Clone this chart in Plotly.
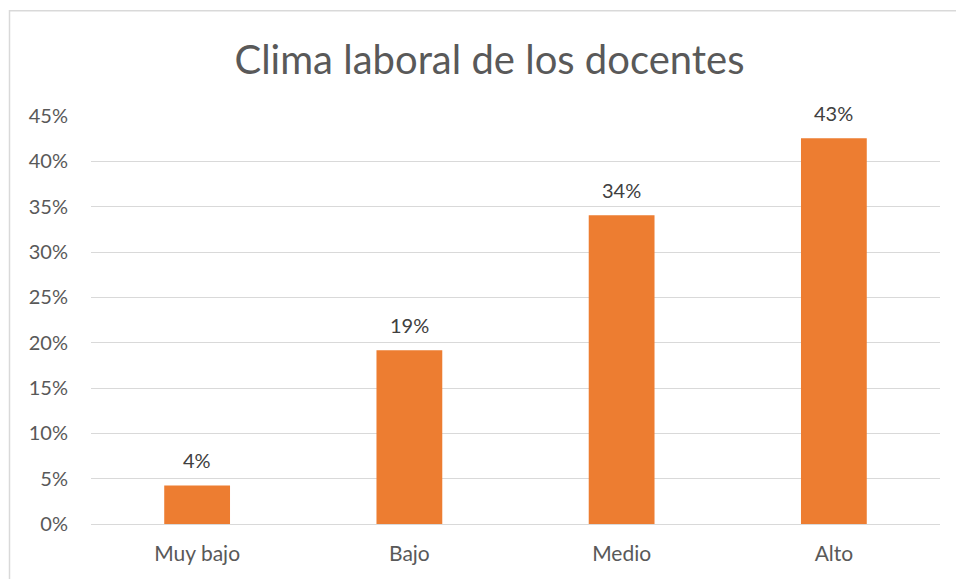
import plotly.graph_objects as go

categories = ["Muy bajo", "Bajo", "Medio", "Alto"]
values = [0.0426, 0.1915, 0.3404, 0.4255]
y_ticks = [0, 0.05, 0.10, 0.15, 0.20, 0.25, 0.30, 0.35, 0.40, 0.45]
y_tick_labels = ["0%", "5%", "10%", "15%", "20%", "25%", "30%", "35%", "40%", "45%"]
title = "Clima laboral de los docentes"

FONT = "Lato, Open Sans, sans-serif"
TXT = "#595959"

L, R, T, B = 91, 16, 116, 54.5
W, H = 956, 579
pw, ph = W - L - R, H - T - B

fig = go.Figure(go.Bar(x=categories, y=values, marker_color="#ED7D31",
                       marker_line_width=0, hoverinfo="skip"))

for c, v in zip(categories, values):
    fig.add_annotation(x=c, y=v, text=f"{round(v*100):d}%", showarrow=False,
                       yanchor="bottom", yshift=11,
                       font=dict(family=FONT, size=20, color="#404040"))

def px_x(p):
    return (p - L) / pw

def px_y(p):
    return (H - B - p) / ph

fig.add_shape(type="rect", xref="paper", yref="paper",
              x0=px_x(9.5), x1=px_x(1100), y0=px_y(700), y1=px_y(10.5),
              line=dict(color="#D9D9D9", width=1.5), fillcolor="rgba(0,0,0,0)",
              layer="below")

fig.update_layout(
    width=W, height=H,
    margin=dict(l=L, r=R, t=T, b=B, pad=0),
    paper_bgcolor="white", plot_bgcolor="white",
    bargap=0.69,
    showlegend=False,
    title=dict(text=title, x=489.5 / W, xanchor="center", xref="container",
               y=1 - 60 / H, yanchor="middle",
               font=dict(family=FONT, size=40, color=TXT)),
    font=dict(family=FONT, color=TXT),
    xaxis=dict(showgrid=False, showline=False, zeroline=False, ticks="",
               tickfont=dict(family=FONT, size=21, color=TXT),
               ticklabelstandoff=15, fixedrange=True),
    yaxis=dict(range=[0, 0.45], tickvals=y_ticks, ticktext=y_tick_labels,
               showgrid=True, gridcolor="#D9D9D9", gridwidth=1.3,
               zeroline=True, zerolinecolor="#D9D9D9", zerolinewidth=1.3,
               showline=False, ticks="",
               tickfont=dict(family=FONT, size=20, color=TXT),
               ticklabelstandoff=22, fixedrange=True),
)

fig.write_html("out.html", config={"displayModeBar": False},
               post_script="document.body.style.margin='0';document.body.style.overflow='hidden';")
